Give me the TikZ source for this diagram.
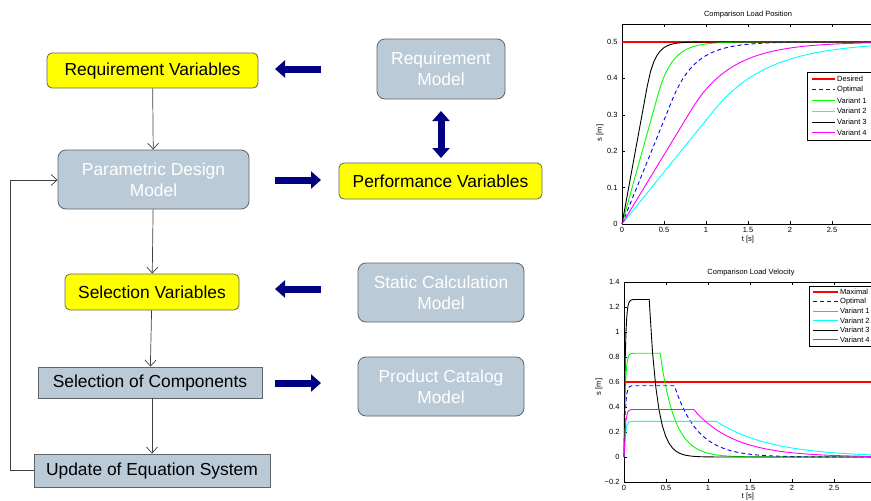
\documentclass[tikz,border=0pt]{standalone}
\usepackage{fontspec}
\setmainfont{Liberation Sans}
\usetikzlibrary{arrows.meta}

\definecolor{boxblue}{HTML}{BACBD7}
\definecolor{navy}{HTML}{000080}
\definecolor{rimgray}{HTML}{5F6468}
\definecolor{plotred}{RGB}{255,0,0}
\definecolor{plotblue}{RGB}{0,0,255}
\definecolor{plotgreen}{RGB}{0,255,0}
\definecolor{plotcyan}{RGB}{0,255,255}
\definecolor{plotmagenta}{RGB}{255,0,255}
\definecolor{plotyellow}{RGB}{255,255,0}
\newcommand\boxfont{\fontsize{17.4}{21}\selectfont}
\newcommand\plotfont{\fontsize{7.5}{9}\selectfont}

\tikzset{
  varbox/.style={draw=rimgray, fill=plotyellow, rounded corners=5pt, line width=0.8pt,
    inner sep=0pt, align=center, font=\boxfont},
  modelbox/.style={draw=rimgray, fill=boxblue, rounded corners=8pt, line width=0.8pt,
    inner sep=0pt, align=center, text=white, font=\boxfont},
  stepbox/.style={draw=rimgray, fill=boxblue, line width=0.8pt,
    inner sep=0pt, align=center, font=\boxfont},
  flow/.style={draw=black!75, line width=0.7pt, -{Straight Barb[length=6pt,width=11pt]}},
  bigarrow/.style={draw=navy, line width=7pt, -{Triangle[length=10pt,width=17pt]}},
  bigdouble/.style={draw=navy, line width=7pt, {Triangle[length=10pt,width=17pt]}-{Triangle[length=10pt,width=17pt]}},
  axisline/.style={draw=black, line width=0.6pt},
  legendbox/.style={draw=black, fill=white, line width=1pt},
  desired/.style={draw=plotred, line width=1.6pt},
  optimal/.style={draw=plotblue, line width=0.9pt, dash pattern=on 4pt off 3pt},
  varone/.style={draw=plotgreen, line width=0.9pt},
  vartwo/.style={draw=plotcyan, line width=0.9pt},
  varthree/.style={draw=black, line width=0.9pt},
  varfour/.style={draw=plotmagenta, line width=0.9pt},
}

\begin{document}
\begin{tikzpicture}[x=1pt, y=-1pt]
  \useasboundingbox[fill=white] (0,0) rectangle (871,501);

  % design flow
  \node[varbox, minimum width=211pt, minimum height=35pt] (reqvar) at (152.5,70.5) {Requirement Variables};
  \node[modelbox, minimum width=191pt, minimum height=59pt] (param) at (153.5,179.5) {Parametric Design\\Model};
  \node[varbox, minimum width=174pt, minimum height=36pt] (selvar) at (152,292) {Selection Variables};
  \node[stepbox, minimum width=224pt, minimum height=31pt] (selcomp) at (150,382.5) {Selection of Components};
  \node[stepbox, minimum width=236pt, minimum height=33pt] (update) at (152,470.5) {Update of Equation System};

  \node[modelbox, minimum width=128pt, minimum height=60pt] (reqmodel) at (441,69) {Requirement\\Model};
  \node[varbox, minimum width=203pt, minimum height=36pt] (perfvar) at (440.5,181) {Performance Variables};
  \node[modelbox, minimum width=166pt, minimum height=59pt] (static) at (441,292.5) {Static Calculation\\Model};
  \node[modelbox, minimum width=166pt, minimum height=59pt] (catalog) at (441,386.5) {Product Catalog\\Model};

  \draw[flow] (reqvar) -- (param);
  \draw[flow] (param) -- (selvar);
  \draw[flow] (selvar) -- (selcomp);
  \draw[flow] (selcomp.south -| update.north) -- (update);
  \draw[flow] (update.west) -| (10,180) -- (param.west |- 0,180);

  % block arrows between the columns
  \coordinate (a1r) at (321,69);  \coordinate (a1l) at (275,69);
  \coordinate (a2l) at (275,180); \coordinate (a2r) at (321,180);
  \coordinate (a3r) at (321,289); \coordinate (a3l) at (275,289);
  \coordinate (a4l) at (275,383); \coordinate (a4r) at (321,383);
  \draw[bigarrow] (a1r) -- (a1l);
  \draw[bigarrow] (a2l) -- (a2r);
  \draw[bigarrow] (a3r) -- (a3l);
  \draw[bigarrow] (a4l) -- (a4r);
  \draw[bigdouble] (441,111) -- (441,158);

  % position plot
  \node[font=\plotfont] (ptitle) at (748,15) {Comparison Load Position};
  \node[font=\plotfont, rotate=90] (pylab) at (600,133) {s [m]};
  \node[font=\plotfont] (pxlab) at (748,240) {t [s]};
  \begin{scope}[shift={(622,224)}, x=84pt, y=364pt, font=\plotfont]
    \draw[axisline] (0,0) rectangle (3.02,0.55);
    \foreach \tx in {0,0.5,1,1.5,2,2.5} {
      \draw[axisline] (\tx,0) -- ++(0,3pt);
      \draw[axisline] (\tx,0.55) -- ++(0,-3pt);
      \node[below=0pt] at (\tx,0) {\tx};
    }
    \foreach \ty in {0,0.1,0.2,0.3,0.4,0.5} {
      \draw[axisline] (0,\ty) -- ++(3pt,0);
      \node[left=1pt] at (0,\ty) {\ty};
    }
    \draw[desired] (0,0.5) -- (3.02,0.5);
    \foreach \vmax/\tend/\sty in {0.57/0.60/optimal, 0.83/0.43/varone, 0.285/1.10/vartwo,
        1.26/0.30/varthree, 0.38/0.83/varfour}
      \draw[\sty] plot[domain=0:\tend, samples=2] (\x,{\vmax*\x})
        -- plot[domain=\tend:3.02, samples=70]
        (\x,{\vmax*\tend+(0.5-\vmax*\tend)*(1-exp(-(\x-\tend)*\vmax/(0.5-\vmax*\tend)))});
  \end{scope}
  \draw[legendbox] (807,72) rectangle (884,140);
  \foreach \sty/\lab [count=\i] in {desired/Desired, optimal/Optimal, varone/Variant 1,
      vartwo/Variant 2, varthree/Variant 3, varfour/Variant 4} {
    \draw[\sty] (812,68+10.8*\i) -- (835,68+10.8*\i);
    \node[font=\plotfont, anchor=west, inner sep=1pt] at (836,68+10.8*\i) {\lab};
  }

  % velocity plot
  \node[font=\plotfont] (vtitle) at (751,273) {Comparison Load Velocity};
  \node[font=\plotfont, rotate=90] (vylab) at (599,387) {s [m]};
  \node[font=\plotfont] (vxlab) at (748,497) {t [s]};
  \begin{scope}[shift={(624,457)}, x=84pt, y=125pt, font=\plotfont]
    \draw[axisline] (0,-0.2) rectangle (3.02,1.4);
    \foreach \tx in {0,0.5,1,1.5,2,2.5} {
      \draw[axisline] (\tx,-0.2) -- ++(0,3pt);
      \draw[axisline] (\tx,1.4) -- ++(0,-3pt);
      \node[below=0pt] at (\tx,-0.2) {\tx};
    }
    \foreach \ty/\lab in {-0.2/−0.2,0/0,0.2/0.2,0.4/0.4,0.6/0.6,0.8/0.8,1/1,1.2/1.2,1.4/1.4} {
      \draw[axisline] (0,\ty) -- ++(3pt,0);
      \node[left=1pt] at (0,\ty) {\lab};
    }
    \draw[desired] (0,0.6) -- (3.02,0.6);
    \foreach \vmax/\tend/\sty in {0.57/0.60/optimal, 0.83/0.43/varone, 0.285/1.10/vartwo,
        1.26/0.30/varthree, 0.38/0.83/varfour}
      \draw[\sty] plot[domain=0:\tend, samples=40] (\x,{\vmax*(1-exp(-\x/0.015))})
        -- plot[domain=\tend:3.02, samples=70]
        (\x,{\vmax*exp(-(\x-\tend)*\vmax/(0.5-\vmax*\tend))});
  \end{scope}
  \draw[legendbox] (809,286) rectangle (884,346);
  \foreach \sty/\lab [count=\i] in {desired/Maximal, optimal/Optimal, varone/Variant 1,
      vartwo/Variant 2, varthree/Variant 3, varfour/Variant 4} {
    \draw[\sty] (813,282.5+9.5*\i) -- (838,282.5+9.5*\i);
    \node[font=\plotfont, anchor=west, inner sep=1pt] at (839,282.5+9.5*\i) {\lab};
  }
\end{tikzpicture}
\end{document}
